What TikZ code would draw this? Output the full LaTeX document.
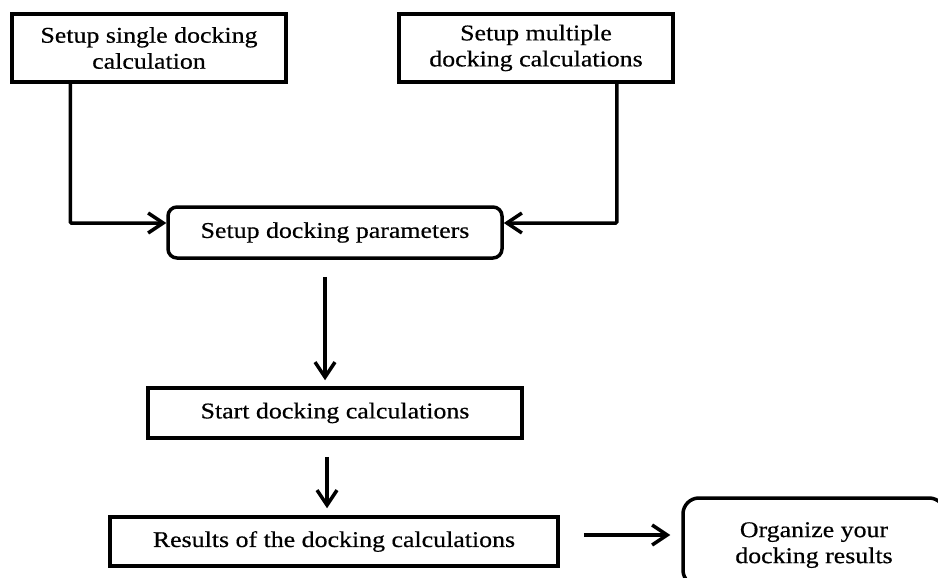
\documentclass[tikz,border=0pt]{standalone}
\usepackage{fontspec}
\setmainfont{Liberation Serif}[FakeStretch=1.15, FakeBold=0.5]
\usetikzlibrary{arrows.meta}
\begin{document}
\begin{tikzpicture}[x=1pt,y=-1pt,
  every node/.style={font=\fontsize{22.5}{26}\selectfont, align=center, inner sep=0pt},
  plainbox/.style={draw, line width=3.5pt, rectangle},
  roundbox/.style={draw, line width=3.5pt, rectangle, rounded corners=9pt},
  flow/.style={line width=3.5pt, -{Straight Barb[length=15pt,width=20pt]}}]
  \useasboundingbox (0,0) rectangle (938,578);
  \clip (0,0) rectangle (938,578);

  % process boxes
  \node[plainbox, minimum width=274pt, minimum height=68pt] (single) at (149,48)
    {Setup single docking\\calculation};
  \node[plainbox, minimum width=274pt, minimum height=68pt] (multiple) at (536,48)
    {Setup multiple\\docking calculations};
  \node[roundbox, minimum width=334pt, minimum height=51pt] (params) at (335,232.5)
    {Setup docking parameters};
  \node[plainbox, minimum width=374pt, minimum height=50pt] (start) at (335,413)
    {Start docking calculations};
  \node[plainbox, minimum width=448pt, minimum height=49pt] (results) at (334,541.5)
    {Results of the docking calculations};
  \node[roundbox, rounded corners=16pt, minimum width=262pt, minimum height=88pt,
        text depth=0pt] (organize) at (814,542)
    {\raisebox{15pt}{\begin{tabular}{@{}c@{}}Organize your\\docking results\end{tabular}}};

  % connectors
  \coordinate (pl) at ([yshift=9.5pt]params.west);
  \coordinate (pr) at ([yshift=9.5pt]params.east);
  \draw[flow, rounded corners=1pt] ([xshift=60pt]single.south west) |- (pl);
  \draw[flow, rounded corners=1pt] ([xshift=-58pt]multiple.south east) |- (pr);
  \draw[flow, shorten <=17pt, shorten >=6pt] ([xshift=-10pt]params.south) -- ([xshift=-10pt]start.north);
  \draw[flow, shorten <=17pt, shorten >=7pt] ([xshift=-8pt]start.south) -- ([xshift=-7pt]results.north);
  \coordinate (re) at ([yshift=6.5pt]results.east);
  \draw[flow, shorten <=24pt, shorten >=11pt] (re) -- (re -| organize.west);
\end{tikzpicture}
\end{document}
